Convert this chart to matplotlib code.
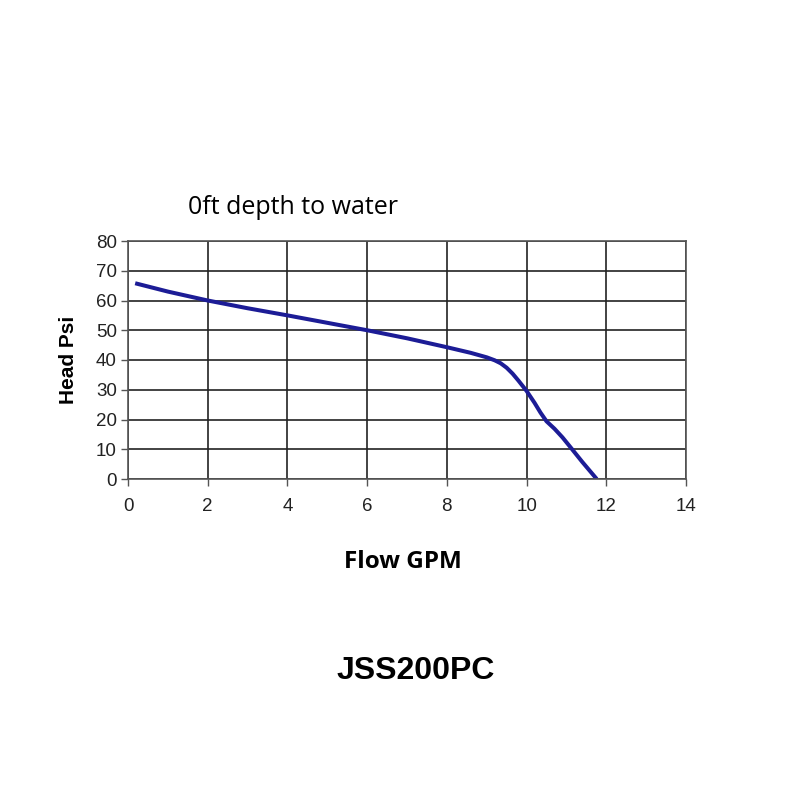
import numpy as np
import matplotlib.pyplot as plt

# curve
flow_gpm = [0.18, 1.0, 2.0, 3.0, 4.0, 5.0, 6.0, 7.0, 8.0, 8.6, 9.0, 9.2, 9.35, 9.5, 9.65, 9.8, 10.0,
            10.2, 10.35, 10.5, 10.7, 10.9, 11.1, 11.4, 11.76]
head_psi = [65.8, 63.0, 60.0, 57.4, 55.0, 52.5, 50.0, 47.3, 44.3, 42.4, 40.9, 39.9, 38.9, 37.4, 35.4, 33.0, 29.6,
            25.6, 22.3, 19.4, 16.9, 14.0, 10.7, 5.7, 0.0]

x_ticks = np.arange(0, 15, 2)
y_ticks = np.arange(0, 81, 10)

fig = plt.figure(figsize=(8, 8), dpi=100)
ax = fig.add_axes([0.16, 0.40125, 0.6975, 0.2975])

ax.plot(flow_gpm, head_psi, color='#1c1c96', linewidth=2.9,
        solid_capstyle='butt', solid_joinstyle='round')

ax.set_xlim(0, 14)
ax.set_ylim(0, 80)
ax.set_xticks(x_ticks)
ax.set_yticks(y_ticks)
ax.grid(True, color='#222222', linewidth=1.2)
ax.set_axisbelow(True)
for s in ax.spines.values():
    s.set_color('#555555')
    s.set_linewidth(1.2)
ax.tick_params(direction='out', length=5, width=1, color='#555555',
               labelsize=13.5)
ax.tick_params(axis='x', pad=9)
ax.tick_params(axis='y', pad=3)
for lab in ax.get_xticklabels() + ax.get_yticklabels():
    lab.set_family('Liberation Sans')
    lab.set_color('#222222')

ax.set_ylabel('Head Psi', family='Liberation Sans', fontsize=15,
              fontweight='bold', labelpad=13)

fig.text(0.235, 0.741, '0ft depth to water', family='Open Sans',
         fontsize=18, va='center', ha='left')
fig.text(0.503, 0.298, 'Flow GPM', family='Open Sans', fontsize=17.5,
         fontweight='bold', ha='center', va='center')
fig.text(0.520, 0.161, 'JSS200PC', family='Liberation Sans', fontsize=23,
         fontweight='bold', ha='center', va='center')

fig.savefig('out.png', dpi=100, facecolor='white')
